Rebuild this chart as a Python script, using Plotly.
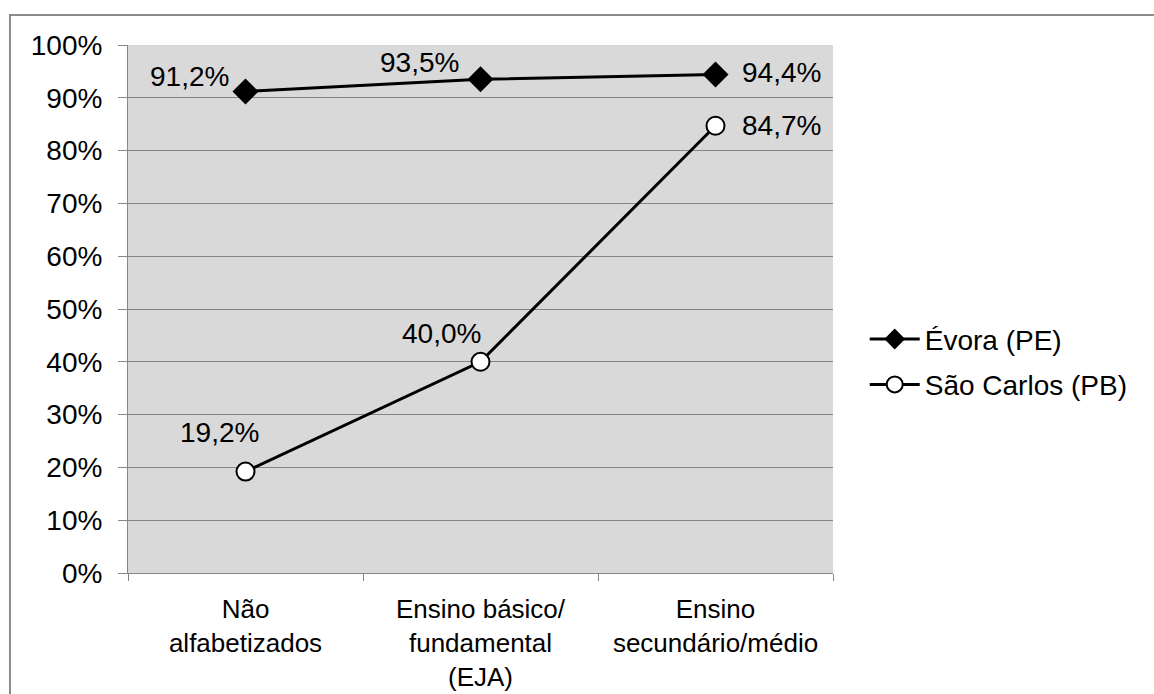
import plotly.graph_objects as go

categorias = ["Não<br>alfabetizados", "Ensino básico/<br>fundamental<br>(EJA)", "Ensino<br>secundário/médio"]
evora = [91.2, 93.5, 94.4]
sao_carlos = [19.2, 40.0, 84.7]
y_ticks = list(range(0, 101, 10))

FONT = "Liberation Sans, Arial, sans-serif"
TXT = 28


def fmt(v):
    return f"{v:.1f}%".replace(".", ",")


# label placement relative to each point: (xanchor, xshift, yshift)
evora_label_pos = [("right", -15, 15), ("center", -61, 17), ("left", 24, 2)]
sao_label_pos = [("center", -26, 39), ("center", -39, 28), ("left", 24, 0)]

fig = go.Figure()
fig.add_trace(go.Scatter(
    x=categorias, y=evora, name="Évora (PE)", mode="lines+markers",
    legendgroup="a",
    line=dict(color="black", width=3),
    marker=dict(symbol="diamond", size=20, color="black"),
))
fig.add_trace(go.Scatter(
    x=categorias, y=sao_carlos, name="São Carlos (PB)", mode="lines+markers",
    legendgroup="b",
    line=dict(color="black", width=3),
    marker=dict(symbol="circle", size=18, color="white", line=dict(color="black", width=2)),
))

annotations = []
for vals, placement in ((evora, evora_label_pos), (sao_carlos, sao_label_pos)):
    for cat, v, (xa, xs, ys) in zip(categorias, vals, placement):
        annotations.append(dict(
            x=cat, y=v, xref="x", yref="y", text=fmt(v), showarrow=False,
            xanchor=xa, yanchor="middle", xshift=xs, yshift=ys,
            font=dict(size=TXT, color="black", family=FONT),
        ))

fig.update_layout(
    width=1154, height=694,
    margin=dict(l=128, r=321, t=45, b=121),
    paper_bgcolor="white", plot_bgcolor="#D9D9D9",
    font=dict(family=FONT, size=TXT, color="black"),
    showlegend=True,
    legend=dict(x=1.045, y=0.40, xanchor="left", yanchor="middle",
                bgcolor="rgba(0,0,0,0)", font=dict(size=TXT),
                traceorder="grouped", tracegroupgap=6, itemwidth=50),
    annotations=annotations,
    shapes=[dict(type="rect", xref="paper", yref="paper",
                 x0=-0.1674, x1=1.6, y0=-0.5, y1=1.0568,
                 line=dict(color="#8C8C8C", width=2), layer="below")],
)
fig.update_xaxes(
    type="category", tickson="boundaries", ticks="outside", ticklen=7,
    tickcolor="#868686", showline=True, linecolor="#868686", linewidth=1,
    showgrid=False, tickfont=dict(size=26), range=[-0.5, 2.5],
    automargin=False, ticklabelstandoff=13,
)
fig.update_yaxes(
    range=[0, 100], tickvals=y_ticks, ticktext=[f"{v}%" for v in y_ticks],
    ticks="outside", ticklen=9, tickcolor="#868686",
    showline=True, linecolor="#868686", linewidth=1,
    showgrid=True, gridcolor="#868686", gridwidth=1,
    zeroline=False, tickfont=dict(size=TXT), ticklabelstandoff=10,
    automargin=False,
)

fig.write_html("out.html")
